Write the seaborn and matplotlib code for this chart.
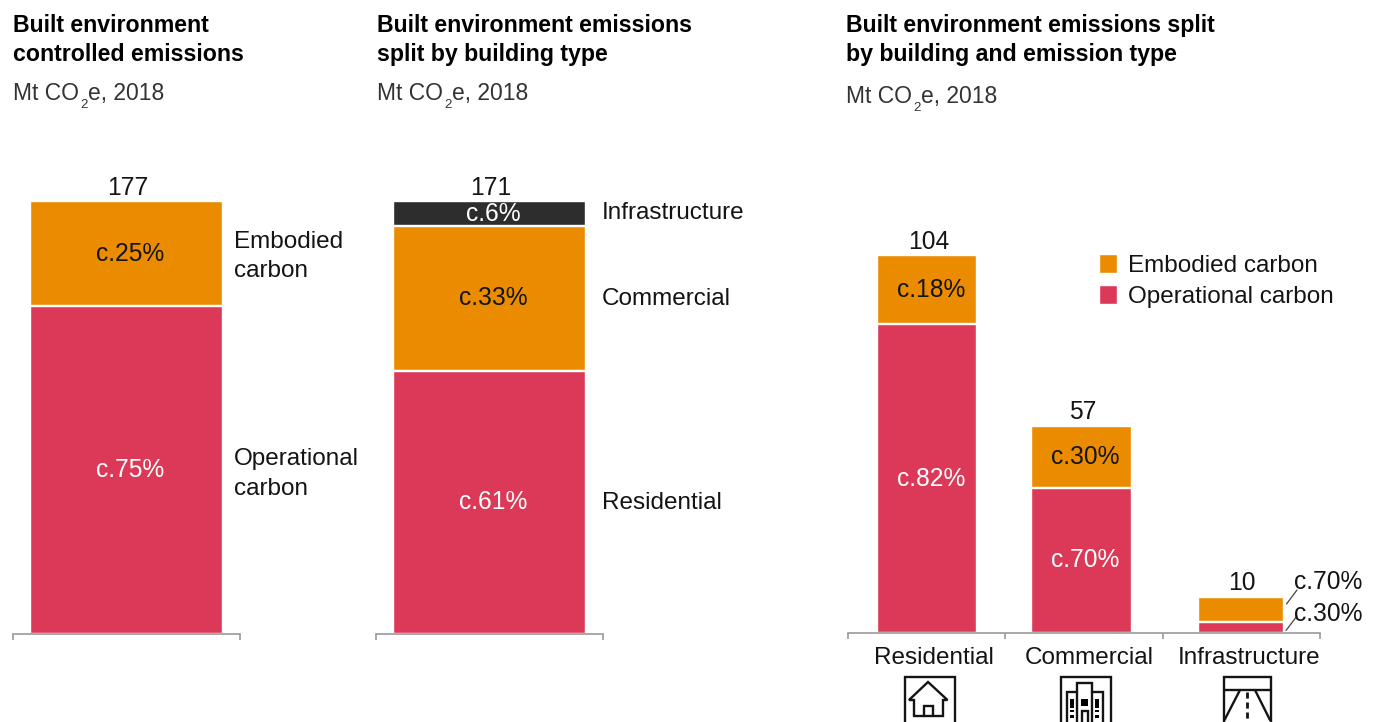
import matplotlib
matplotlib.use("Agg")
import matplotlib.pyplot as plt
import seaborn as sns
from matplotlib.lines import Line2D
from matplotlib.patches import Patch, Rectangle

# Mt CO2e, 2018
controlled_parts = ["Operational carbon", "Embodied carbon"]
controlled_values = [134, 43]
controlled_shares = ["c.75%", "c.25%"]
controlled_total = 177

building_parts = ["Residential", "Commercial", "Infrastructure"]
building_values = [104, 57, 10]
building_shares = ["c.61%", "c.33%", "c.6%"]
building_total = 171

split_categories = ["Residential", "Commercial", "Infrastructure"]
split_operational = [85, 40, 3]
split_embodied = [19, 17, 7]
split_totals = [104, 57, 10]
split_operational_shares = ["c.82%", "c.70%", "c.30%"]
split_embodied_shares = ["c.18%", "c.30%", "c.70%"]

ORANGE = "#EB8C00"
RED = "#DB3957"
DARK = "#2D2D2D"
GREY = "#9A9A9A"
INK = "#141414"
EDGE_PX = 2.4

W, H = 1376, 722
sns.set_theme(style="white")
plt.rcParams["font.family"] = ["Liberation Sans", "DejaVu Sans"]
FS = 17.5
FS_VALUE = 17.7
FS_TITLE = 16.65
FS_SUB = 16.5

fig = plt.figure(figsize=(W / 100, H / 100), dpi=100, facecolor="white")


def make_axes(left, right, top, bottom):
    return fig.add_axes([left / W, 1 - bottom / H, (right - left) / W, (bottom - top) / H])


def label(x, y, s, **kw):
    # y is the text baseline in pixels from the top of the figure
    kw.setdefault("fontsize", FS)
    kw.setdefault("color", INK)
    kw.setdefault("va", "baseline")
    return fig.text(x / W, 1 - y / H, s, **kw)


def stacked_column(ax, order, category, values, colors, width, nudge=0.0):
    # Paint running totals from the tallest down so each segment keeps its own height.
    running = [sum(values[: i + 1]) for i in range(len(values))]
    first_new = len(ax.patches)
    for height, color in zip(reversed(running), reversed(colors)):
        sns.barplot(x=[category], y=[height], order=order, color=color, saturation=1,
                    width=width, edgecolor="white", linewidth=EDGE_PX * 0.72, ax=ax, zorder=2)
    for patch in ax.patches[first_new:]:
        patch.set_x(patch.get_x() + nudge)


def finish_axis(ax, n, ymax):
    ax.set_xlim(-0.5, n - 0.5)
    ax.set_ylim(0, ymax)
    ax.patch.set_alpha(0)
    sns.despine(ax=ax, left=True)
    ax.spines["bottom"].set_color(GREY)
    ax.spines["bottom"].set_linewidth(1.2)
    ax.spines["bottom"].set_zorder(5)
    ax.set_yticks([])
    ax.set_xlabel("")
    ax.set_ylabel("")
    ax.set_xticks([i - 0.5 for i in range(n + 1)])
    ax.set_xticklabels([])
    ax.tick_params(axis="x", bottom=True, length=4, width=1.2, color=GREY)


def segment_labels(ax, xpos, values, texts, colors):
    base = 0
    for v, t, c in zip(values, texts, colors):
        ax.annotate(t, (xpos, base + v / 2), xytext=(2.9, 0), textcoords="offset points",
                    ha="center", va="center", fontsize=FS_VALUE, color=c, zorder=6)
        base += v


def total_label(ax, xpos, total):
    ax.annotate(str(total), (xpos, total), xytext=(1, 4.6), textcoords="offset points",
                ha="center", va="baseline", fontsize=FS_VALUE, color=INK, annotation_clip=False)


# Left column: controlled emissions
ax1 = make_axes(13, 240, 201, 634)
stacked_column(ax1, ["All"], "All", controlled_values, [RED, ORANGE], 193.4 / 227)
finish_axis(ax1, 1, controlled_total)
segment_labels(ax1, 0, controlled_values, controlled_shares, ["white", INK])
total_label(ax1, 0, controlled_total)

# Middle column: split by building type
ax2 = make_axes(376, 603, 201, 634)
stacked_column(ax2, ["All"], "All", building_values, [RED, ORANGE, DARK], 193.4 / 227)
finish_axis(ax2, 1, building_total)
segment_labels(ax2, 0, building_values, building_shares, ["white", INK, "white"])
total_label(ax2, 0, building_total)

# Right panel: each building type split by emission type
ax3 = make_axes(848, 1320, 255, 633)
bar_widths = [100.5 / 157.3, 100.5 / 157.3, 86.5 / 157.3]
bar_nudges = [0.003, -0.016, -0.003]
for cat, op, emb, w, dx in zip(split_categories, split_operational, split_embodied,
                               bar_widths, bar_nudges):
    stacked_column(ax3, split_categories, cat, [op, emb], [RED, ORANGE], w, dx)
finish_axis(ax3, 3, split_totals[0])
for i in range(2):
    segment_labels(ax3, i + bar_nudges[i], [split_operational[i], split_embodied[i]],
                   [split_operational_shares[i], split_embodied_shares[i]], ["white", INK])
for i, total in enumerate(split_totals):
    total_label(ax3, i + bar_nudges[i], total)

# Panel headings; the subscript is set by hand to sit low and small
for x, lines, sub_y in [
    (13, ["Built environment", "controlled emissions"], 100),
    (377, ["Built environment emissions", "split by building type"], 100),
    (846, ["Built environment emissions split", "by building and emission type"], 103),
]:
    label(x, 32, lines[0], fontweight="bold", color="black", fontsize=FS_TITLE)
    label(x, 61, lines[1], fontweight="bold", color="black", fontsize=FS_TITLE)
    label(x, sub_y, "Mt CO", color="#333333", fontsize=FS_SUB)
    label(x + 67.5, sub_y + 8, "2", color="#333333", fontsize=9.5)
    label(x + 75, sub_y, "e, 2018", color="#333333", fontsize=FS_SUB)

# Direct labels beside the columns
label(234, 248, "Embodied")
label(234, 277, "carbon")
label(234, 465, "Operational")
label(234, 495, "carbon")
label(602, 219, building_parts[2])
label(602, 305, building_parts[1])
label(602, 509, building_parts[0])

# Category names under the right panel
for cx, name in zip([933.5, 1089, 1249], split_categories):
    label(cx, 664, name, ha="center")

# Callouts for the narrow infrastructure column
label(1294, 589, split_embodied_shares[2], fontsize=FS_VALUE)
label(1294, 621, split_operational_shares[2], fontsize=FS_VALUE)


def stroke(xs, ys, color=INK, lw=1.7, **kw):
    fig.add_artist(Line2D([x / W for x in xs], [1 - y / H for y in ys], color=color, lw=lw,
                          solid_joinstyle="miter", **kw))


def box(x0, y0, x1, y1, fill="none", lw=1.7):
    fig.add_artist(Rectangle((x0 / W, 1 - y1 / H), (x1 - x0) / W, (y1 - y0) / H,
                             transform=fig.transFigure, facecolor=fill,
                             edgecolor=INK if fill == "none" else "none", linewidth=lw))


stroke([1286.5, 1297], [604, 590], color="#444444", lw=0.9)
stroke([1286, 1297], [630.5, 616], color="#444444", lw=0.9)

legend = fig.legend(
    handles=[Patch(facecolor=ORANGE, label="Embodied carbon"),
             Patch(facecolor=RED, label="Operational carbon")],
    loc="upper left", bbox_to_anchor=(1099 / W, 1 - 254 / H), bbox_transform=fig.transFigure,
    frameon=False, fontsize=FS, borderpad=0, borderaxespad=0,
    handlelength=0.76, handleheight=0.82, handletextpad=0.43, labelspacing=0.33,
    labelcolor=INK,
)

# House icon
box(905, 677, 954.5, 730)
stroke([914, 914, 909, 928, 947.5, 943, 943, 914], [716, 700, 700, 682, 700, 700, 716, 716])
stroke([924, 924, 933, 933], [716, 706, 706, 716])

# Office block icon
box(1061, 677, 1110.5, 730)
stroke([1077, 1077, 1092, 1092], [730, 683, 683, 730])
stroke([1077, 1066.5, 1066.5], [692, 692, 730])
stroke([1092, 1102.5, 1102.5], [692, 692, 730])
box(1081, 699, 1088, 706, fill="black")
for x0, x1 in [(1070, 1074), (1095, 1098.5)]:
    box(x0, 699, x1, 708, fill="black")
    box(x0, 710, x1, 712, fill="black")
    box(x0, 715, x1, 718, fill="black")
stroke([1082, 1082, 1088, 1088], [730, 711, 711, 730])

# Road icon
box(1224, 677, 1271, 730)
stroke([1224, 1271], [689.5, 689.5])
stroke([1240, 1224.5], [690, 720])
stroke([1255, 1270], [690, 720])
stroke([1247, 1247], [692, 722], lw=2, linestyle=(0, (2.2, 1.4)))

fig.savefig("out.png", dpi=100, facecolor="white")
